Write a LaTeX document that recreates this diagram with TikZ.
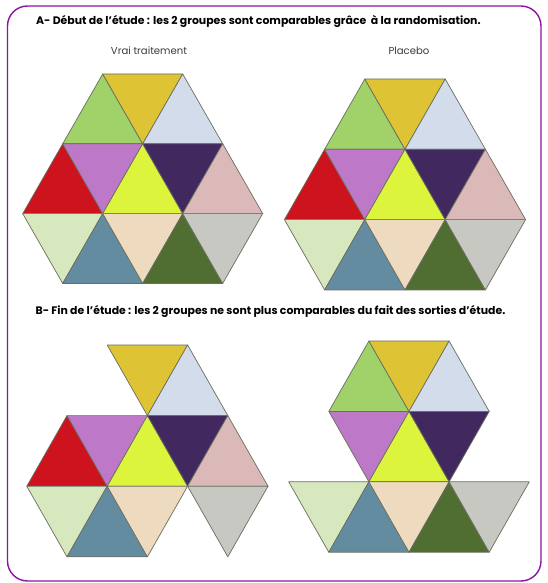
\documentclass[tikz,border=0pt]{standalone}
\usepackage{fontspec}
\setmainfont{Poppins}
\definecolor{frameviolet}{RGB}{140,20,160}
\definecolor{edgecol}{RGB}{105,110,95}
\definecolor{cLgreen}{RGB}{160,210,105}
\definecolor{cGold}{RGB}{222,196,52}
\definecolor{cLblue}{RGB}{210,220,235}
\definecolor{cRed}{RGB}{205,20,30}
\definecolor{cOrchid}{RGB}{190,120,200}
\definecolor{cLime}{RGB}{220,245,60}
\definecolor{cDpurple}{RGB}{65,40,95}
\definecolor{cPink}{RGB}{220,185,185}
\definecolor{cPgreen}{RGB}{215,232,190}
\definecolor{cTeal}{RGB}{100,140,160}
\definecolor{cPeach}{RGB}{238,218,190}
\definecolor{cDgreen}{RGB}{80,110,50}
\definecolor{cGray}{RGB}{200,200,195}
\definecolor{subgray}{RGB}{60,60,60}
\tikzset{
  tri/.style={fill=#1, draw=edgecol, line width=0.7pt, line join=round},
  titletext/.style={font=\bfseries\fontsize{10.9}{12}\selectfont, text=black, inner sep=0pt},
  subtext/.style={font=\fontsize{10.1}{12}\selectfont, text=subgray, inner sep=0pt},
  frame/.style={draw=frameviolet, line width=1.4pt, rounded corners=20pt}
}
% top row
\newcommand{\TopL}{\draw[tri=cLgreen] (-1,0) -- (-2,1) -- (0,1) -- cycle;}
\newcommand{\TopM}{\draw[tri=cGold] (-1,0) -- (1,0) -- (0,1) -- cycle;}
\newcommand{\TopR}{\draw[tri=cLblue] (1,0) -- (0,1) -- (2,1) -- cycle;}
% middle row
\newcommand{\MidA}{\draw[tri=cRed] (-2,1) -- (-3,2) -- (-1,2) -- cycle;}
\newcommand{\MidB}{\draw[tri=cOrchid] (-2,1) -- (0,1) -- (-1,2) -- cycle;}
\newcommand{\MidC}{\draw[tri=cLime] (0,1) -- (-1,2) -- (1,2) -- cycle;}
\newcommand{\MidD}{\draw[tri=cDpurple] (0,1) -- (2,1) -- (1,2) -- cycle;}
\newcommand{\MidE}{\draw[tri=cPink] (2,1) -- (1,2) -- (3,2) -- cycle;}
% bottom row
\newcommand{\BotA}{\draw[tri=cPgreen] (-3,2) -- (-1,2) -- (-2,3) -- cycle;}
\newcommand{\BotB}{\draw[tri=cTeal] (-1,2) -- (-2,3) -- (0,3) -- cycle;}
\newcommand{\BotC}{\draw[tri=cPeach] (-1,2) -- (1,2) -- (0,3) -- cycle;}
\newcommand{\BotD}{\draw[tri=cDgreen] (1,2) -- (0,3) -- (2,3) -- cycle;}
\newcommand{\BotE}{\draw[tri=cGray] (1,2) -- (3,2) -- (2,3) -- cycle;}
\begin{document}
\begin{tikzpicture}[x=1pt,y=-1pt]
\useasboundingbox (0,0) rectangle (547,583);
\fill[white] (0,0) rectangle (547,583);
\draw[frame] (7.5,6) rectangle (541,581);

\node[titletext] (titleA) at (258.4,21.5) {A- Début de l'étude : les 2 groupes sont comparables grâce\ \ à la randomisation.};
\node[subtext] (vraiA) at (149,51) {Vrai traitement};
\node[subtext] (placeboA) at (409,51) {Placebo};
\node[titletext] (titleB) at (270.5,311.7) {B- Fin de l'étude : les 2 groupes ne sont plus comparables du fait des sorties d'étude.};

% A left
\begin{scope}[shift={(142.7pt,-74pt)}, x=40pt, y=-69.8pt]
\TopL \TopM \TopR
\MidA \MidB \MidC \MidD \MidE
\BotA \BotB \BotC \BotD \BotE
\end{scope}
% A right
\begin{scope}[shift={(405pt,-79pt)}, x=40.2pt, y=-70.3pt]
\TopL \TopM \TopR
\MidA \MidB \MidC \MidD \MidE
\BotA \BotB \BotC \BotD \BotE
\end{scope}
% B left
\begin{scope}[shift={(147.4pt,-345pt)}, x=40.2pt, y=-70.6pt]
\TopM \TopR
\MidA \MidB \MidC \MidD \MidE
\BotA \BotB \BotC \BotE
\end{scope}
% B right
\begin{scope}[shift={(409pt,-341pt)}, x=40.1pt, y=-70.4pt]
\TopL \TopM \TopR
\MidB \MidC \MidD
\BotA \BotB \BotC \BotD \BotE
\end{scope}
\end{tikzpicture}
\end{document}
